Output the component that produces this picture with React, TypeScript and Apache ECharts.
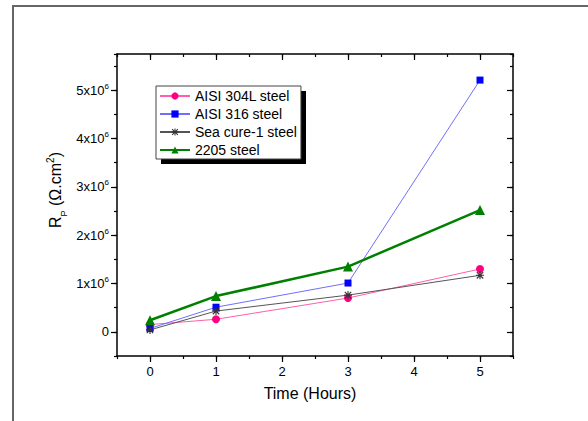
import React, { useEffect, useRef } from "react";
import * as echarts from "echarts";

// Data
const hours = [0, 1, 3, 5];
const aisi304L = [0.15e6, 0.26e6, 0.7e6, 1.3e6];
const aisi316 = [0.07e6, 0.51e6, 1.01e6, 5.21e6];
const seaCure = [0.04e6, 0.43e6, 0.76e6, 1.17e6];
const steel2205 = [0.24e6, 0.74e6, 1.35e6, 2.52e6];
const seriesNames = ["AISI 304L steel", "AISI 316 steel", "Sea cure-1 steel", "2205 steel"];

const xRange = [-0.5, 5.5];
const yRange = [-0.5e6, 5.75e6];
const xMajor = [0, 5];
const yMajor = [0, 5e6];

const FONT = "'Liberation Sans', Arial, sans-serif";
const STAR =
  "path://M-5,-0.7L5,-0.7L5,0.7L-5,0.7Z M-0.7,-5L0.7,-5L0.7,5L-0.7,5Z M-3.5,-4.5L4.5,3.5L3.5,4.5L-4.5,-3.5Z M3.5,-4.5L4.5,-3.5L-3.5,4.5L-4.5,3.5Z";

const toPairs = (ys: number[]) => hours.map((h, i) => [h, ys[i]]);

export default function App() {
  const ref = useRef<HTMLDivElement>(null);
  useEffect(() => {
    if (!ref.current) return;
    const chart = echarts.init(ref.current, undefined, { renderer: "svg" });

    // main grid
    const gL = 117, gT = 54, gW = 396, gH = 302;
    const pxX = gW / (xRange[1] - xRange[0]);
    const pxY = gH / (yRange[1] - yRange[0]);
    const bL = gL + (xMajor[0] - xRange[0]) * pxX;
    const bW = (xMajor[1] - xMajor[0]) * pxX;
    const bT = gT + (yRange[1] - yMajor[1]) * pxY;
    const bH = (yMajor[1] - yMajor[0]) * pxY;
    const offBottom = gT + gH - (bT + bH);
    const offTop = bT - gT;
    const offSide = bL - gL;

    const axisLine = { show: true, onZero: false, lineStyle: { color: "#000", width: 1.5 } };
    const tickStyle = { color: "#000", width: 1.2 };

    const option: any = {
      animation: false,
      backgroundColor: "#fff",
      grid: [
        { left: gL, top: gT, width: gW, height: gH, containLabel: false },
        { left: bL, top: bT, width: bW, height: bH, containLabel: false },
      ],
      xAxis: [
        {
          gridIndex: 0, type: "value", min: xRange[0], max: xRange[1], interval: 0.5,
          position: "bottom", axisLine, axisTick: { show: true, inside: false, length: 3, lineStyle: tickStyle },
          axisLabel: { show: false }, splitLine: { show: false },
        },
        {
          gridIndex: 0, type: "value", min: xRange[0], max: xRange[1], interval: 0.5,
          position: "top", axisLine, axisTick: { show: true, inside: true, length: 3, lineStyle: tickStyle },
          axisLabel: { show: false }, splitLine: { show: false },
        },
        {
          gridIndex: 1, type: "value", min: xMajor[0], max: xMajor[1], interval: 1,
          position: "bottom", offset: offBottom,
          axisLine: { show: false, onZero: false },
          axisTick: { show: true, inside: false, length: 6, lineStyle: tickStyle },
          axisLabel: { show: true, margin: 9, fontSize: 13, fontFamily: FONT, color: "#000" },
          splitLine: { show: false },
        },
        {
          gridIndex: 1, type: "value", min: xMajor[0], max: xMajor[1], interval: 1,
          position: "top", offset: offTop,
          axisLine: { show: false, onZero: false },
          axisTick: { show: true, inside: true, length: 6, lineStyle: tickStyle },
          axisLabel: { show: false }, splitLine: { show: false },
        },
      ],
      yAxis: [
        {
          gridIndex: 0, type: "value", min: yRange[0], max: yRange[1], interval: 0.5e6,
          position: "left", axisLine, axisTick: { show: true, inside: false, length: 3, lineStyle: tickStyle },
          axisLabel: { show: false }, splitLine: { show: false },
        },
        {
          gridIndex: 0, type: "value", min: yRange[0], max: yRange[1], interval: 0.5e6,
          position: "right", axisLine, axisTick: { show: true, inside: true, length: 3, lineStyle: tickStyle },
          axisLabel: { show: false }, splitLine: { show: false },
        },
        {
          gridIndex: 1, type: "value", min: yMajor[0], max: yMajor[1], interval: 1e6,
          position: "left", offset: offSide,
          axisLine: { show: false, onZero: false },
          axisTick: { show: true, inside: false, length: 6, lineStyle: tickStyle },
          axisLabel: {
            show: true, margin: 8, fontFamily: FONT, color: "#000",
            formatter: (v: number) => (v === 0 ? "{n|0}" : `{n|${Math.round(v / 1e6)}x10}{s|6}`),
            rich: {
              n: { fontSize: 13, fontFamily: FONT, color: "#000", lineHeight: 16 },
              s: { fontSize: 8, fontFamily: FONT, color: "#000", verticalAlign: "top", lineHeight: 8, padding: [0, 0, 4, 0] },
            },
          },
          splitLine: { show: false },
        },
        {
          gridIndex: 1, type: "value", min: yMajor[0], max: yMajor[1], interval: 1e6,
          position: "right", offset: offSide,
          axisLine: { show: false, onZero: false },
          axisTick: { show: true, inside: true, length: 6, lineStyle: tickStyle },
          axisLabel: { show: false }, splitLine: { show: false },
        },
      ],
      legend: {
        orient: "vertical", left: 156, top: 86, z: 10,
        itemWidth: 30, itemHeight: 9, itemGap: 4,
        padding: [3, 4, 2, 3],
        backgroundColor: "#fff", borderColor: "#444", borderWidth: 1,
        textStyle: { fontSize: 14, fontFamily: FONT, color: "#000", lineHeight: 14 },
        data: seriesNames,
      },
      graphic: [
        { type: "line", z: 0, shape: { x1: 13, y1: 6, x2: 13, y2: 421 }, style: { stroke: "#666", lineWidth: 2 } },
        { type: "line", z: 0, shape: { x1: 12, y1: 6, x2: 588, y2: 6 }, style: { stroke: "#666", lineWidth: 2 } },
        { type: "rect", z: 0, shape: { x: 161, y: 91, width: 145, height: 73 }, style: { fill: "#000" } },
        {
          type: "text", z: 5, x: 310, y: 393,
          style: { text: "Time (Hours)", fontSize: 16, fontFamily: FONT, fill: "#000", align: "center", verticalAlign: "middle" },
        },
        {
          type: "text", z: 5, x: 55, y: 190, rotation: Math.PI / 2,
          style: {
            text: "{r|R}{b|P}{r| (Ω.cm}{t|2}{r|)}",
            align: "center", verticalAlign: "middle",
            rich: {
              r: { fontSize: 16, fontFamily: FONT, fill: "#000", lineHeight: 20 },
              b: { fontSize: 9, fontFamily: FONT, fill: "#000", verticalAlign: "bottom", lineHeight: 10, padding: [0, 0, -3, 0] },
              t: { fontSize: 10, fontFamily: FONT, fill: "#000", verticalAlign: "top", lineHeight: 10, padding: [0, 0, 2, 0] },
            },
          },
        },
      ],
      series: [
        {
          name: seriesNames[0], type: "line", data: toPairs(aisi304L),
          symbol: "circle", symbolSize: 8,
          lineStyle: { color: "#ff5fa8", width: 1 }, itemStyle: { color: "#ff0080" },
        },
        {
          name: seriesNames[1], type: "line", data: toPairs(aisi316),
          symbol: "rect", symbolSize: 7,
          lineStyle: { color: "#6f6fff", width: 1 }, itemStyle: { color: "#0000ff" },
        },
        {
          name: seriesNames[2], type: "line", data: toPairs(seaCure),
          symbol: STAR, symbolSize: 8,
          lineStyle: { color: "#555", width: 1 }, itemStyle: { color: "#333" },
        },
        {
          name: seriesNames[3], type: "line", data: toPairs(steel2205),
          symbol: "triangle", symbolSize: 10,
          lineStyle: { color: "#008000", width: 2.5 }, itemStyle: { color: "#008000" },
        },
      ],
    };
    chart.setOption(option);
    return () => chart.dispose();
  }, []);
  return (
    <div
      ref={ref}
      style={{ position: "fixed", left: 0, top: 0, width: 588, height: 421, background: "#fff" }}
    />
  );
}
